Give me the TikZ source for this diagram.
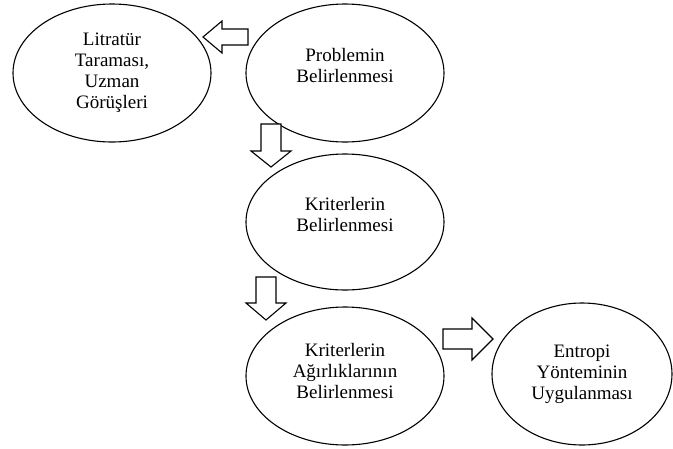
\documentclass[tikz,border=0pt]{standalone}
\usepackage{fontspec}
\setmainfont{Liberation Serif}
\usetikzlibrary{shapes.geometric}

\tikzset{
  adim/.style={draw, ellipse, line width=1.1pt, inner sep=0pt, align=center,
    font=\fontsize{19}{21}\selectfont},
  okblok/.style={draw, line width=1.1pt, fill=white, line join=miter}
}

\begin{document}
\begin{tikzpicture}[x=1pt,y=-1pt]
  \useasboundingbox (0,0) rectangle (673,448);

  % Ellipses
  \node[adim, minimum width=198pt, minimum height=138pt] (litratur) at (112,73) {Litratür\\Taraması,\\Uzman\\Görüşleri};
  \node[adim, minimum width=198pt, minimum height=138pt, text depth=15pt] (problem) at (345,73) {Problemin\\Belirlenmesi};
  \node[adim, minimum width=198pt, minimum height=136pt, text depth=15pt] (kriter) at (345,222) {Kriterlerin\\Belirlenmesi};
  \node[adim, minimum width=198pt, minimum height=138pt, text depth=11pt] (agirlik) at (345,376) {Kriterlerin\\Ağırlıklarının\\Belirlenmesi};
  \node[adim, minimum width=180pt, minimum height=142pt] (entropi) at (582,374) {Entropi\\Yönteminin\\Uygulanması};

  % Block arrows (tail points)
  \coordinate (ok1) at (248,37);
  \coordinate (ok2) at (271,124);
  \coordinate (ok3) at (266,277);
  \coordinate (ok4) at (443,339);

  \draw[okblok] (ok1) ++(0,-8) -- ++(-26,0) -- ++(0,-8) -- ++(-19,16) -- ++(19,16) -- ++(0,-8) -- ++(26,0) -- cycle;
  \draw[okblok] (ok2) ++(-10,0) -- ++(0,27) -- ++(-10,0) -- ++(20,16) -- ++(20,-16) -- ++(-10,0) -- ++(0,-27) -- cycle;
  \draw[okblok] (ok3) ++(-10,0) -- ++(0,26) -- ++(-10,0) -- ++(20,17) -- ++(20,-17) -- ++(-10,0) -- ++(0,-26) -- cycle;
  \draw[okblok] (ok4) ++(0,-10) -- ++(29,0) -- ++(0,-11) -- ++(21,21) -- ++(-21,21) -- ++(0,-11) -- ++(-29,0) -- cycle;
\end{tikzpicture}
\end{document}
